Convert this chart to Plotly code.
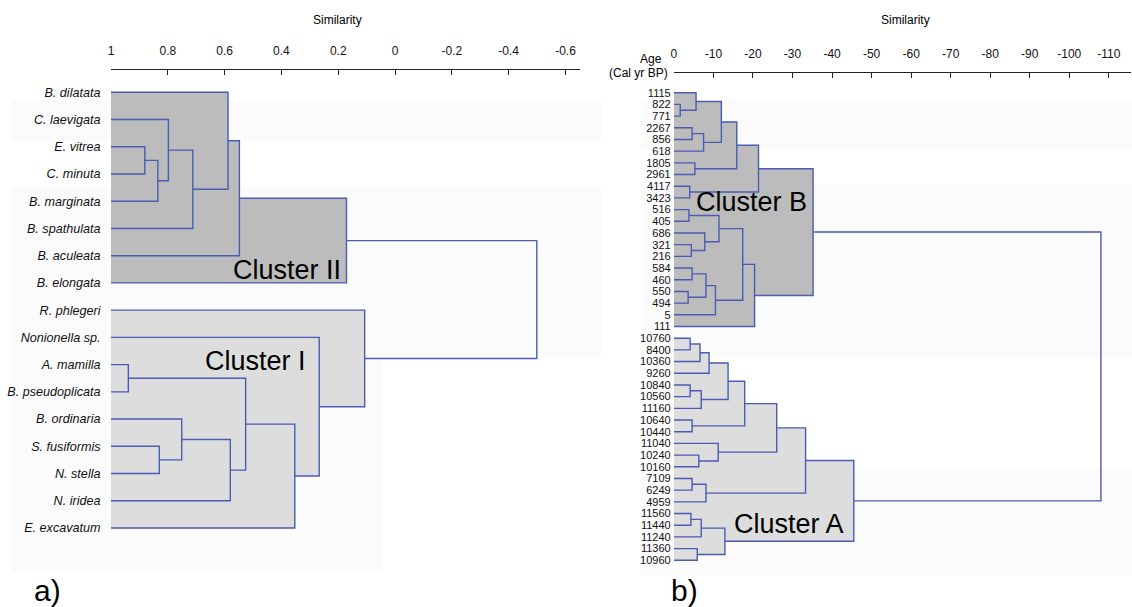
import plotly.graph_objects as go

W, H = 1132, 607

# ---------------- Panel a) : species dendrogram ----------------
species = ["B. dilatata", "C. laevigata", "E. vitrea", "C. minuta", "B. marginata",
           "B. spathulata", "B. aculeata", "B. elongata", "R. phlegeri", "Nonionella sp.",
           "A. mamilla", "B. pseudoplicata", "B. ordinaria", "S. fusiformis", "N. stella",
           "N. iridea", "E. excavatum"]
# merge k -> node "m<k>"
a_left = ["E. vitrea", "m0", "C. laevigata", "m2", "B. dilatata", "m4", "m5",
          "A. mamilla", "S. fusiformis", "B. ordinaria", "m9", "m7", "m11",
          "Nonionella sp.", "R. phlegeri", "m6"]
a_right = ["C. minuta", "B. marginata", "m1", "B. spathulata", "m3", "B. aculeata", "B. elongata",
           "B. pseudoplicata", "N. stella", "m8", "N. iridea", "m10", "E. excavatum",
           "m12", "m13", "m14"]
a_sim = [0.881, 0.835, 0.798, 0.712, 0.588, 0.548, 0.171,
         0.939, 0.830, 0.751, 0.580, 0.526, 0.353,
         0.267, 0.107, -0.499]
a_ticks = [1, 0.8, 0.6, 0.4, 0.2, 0, -0.2, -0.4, -0.6]
a_ticktext = ["1", "0.8", "0.6", "0.4", "0.2", "0", "-0.2", "-0.4", "-0.6"]
a_clusters = ["m6", "m14"]
a_cluster_names = ["Cluster II", "Cluster I"]

# ---------------- Panel b) : samples dendrogram ----------------
ages = ["1115", "822", "771", "2267", "856", "618", "1805", "2961", "4117", "3423",
        "516", "405", "686", "321", "216", "584", "460", "550", "494", "5", "111",
        "10760", "8400", "10360", "9260", "10840", "10560", "11160", "10640", "10440",
        "11040", "10240", "10160", "7109", "6249", "4959", "11560", "11440", "11240",
        "11360", "10960"]
b_left = ["822", "1115", "2267", "m2", "m1", "1805", "m4", "4117", "m6",
          "516", "321", "686", "m9", "584", "550", "m13", "m15", "m12", "m17", "m8",
          "10760", "m20", "m21", "10840", "m23", "m22", "10640", "m25", "10240", "11040",
          "m27", "7109", "m31", "m30", "11560", "m34", "11360", "m35", "m33", "m19"]
b_right = ["771", "m0", "856", "618", "m3", "2961", "m5", "3423", "m7",
           "405", "216", "m10", "m11", "460", "494", "m14", "5", "m16", "111", "m18",
           "8400", "10360", "9260", "10560", "11160", "m24", "10440", "m26", "10160", "m28",
           "m29", "6249", "4959", "m32", "11440", "11240", "10960", "m36", "m37", "m38"]
b_sim = [-1.6, -5.6, -4.6, -7.5, -12.0, -5.3, -15.9, -4.0, -21.4,
         -3.8, -4.4, -7.8, -11.4, -4.6, -3.6, -8.1, -10.5, -17.4, -20.4, -35.2,
         -4.1, -6.6, -8.9, -4.1, -6.9, -13.7, -4.6, -17.9, -6.3, -11.2,
         -26.0, -4.6, -8.1, -33.3, -4.3, -6.9, -5.9, -12.9, -45.5, -108.0]
b_ticks = [0, -10, -20, -30, -40, -50, -60, -70, -80, -90, -100, -110]
b_ticktext = ["0", "-10", "-20", "-30", "-40", "-50", "-60", "-70", "-80", "-90", "-100", "-110"]
b_clusters = ["m19", "m38"]
b_cluster_names = ["Cluster B", "Cluster A"]

LINE = "#4a5cb4"
DARK = "#bcbcbc"
LIGHT = "#dddddd"
FONT = "Liberation Sans, Arial, sans-serif"


def build(leaves, left, right, sims, base):
    pos = {n: i for i, n in enumerate(leaves)}
    hx = {n: base for n in leaves}
    kids = {}
    lx, ly = [], []
    for k, (a, b, h) in enumerate(zip(left, right, sims)):
        key = "m%d" % k
        ya, yb = pos[a], pos[b]
        lx += [hx[a], h, h, hx[b], None]
        ly += [ya, ya, yb, yb, None]
        pos[key] = (ya + yb) / 2.0
        hx[key] = h
        kids[key] = (a, b)
    return pos, hx, kids, lx, ly


def cluster_fill(root, pos, hx, kids, base):
    fx, fy = [], []
    stack = [root]
    while stack:
        n = stack.pop()
        if n not in kids:
            continue
        a, b = kids[n]
        y0, y1 = sorted([pos[a], pos[b]])
        h = hx[n]
        fx += [base, h, h, base, base, None]
        fy += [y0, y0, y1, y1, y0, None]
        stack += [a, b]
    return fx, fy


fig = go.Figure()

# faint background bands (scan texture of the original)
for x0, x1, y0, y1 in [(8, 600, 100, 142), (8, 600, 187, 358), (8, 380, 358, 572),
                       (640, 1132, 100, 150), (640, 1132, 185, 358), (640, 1132, 470, 575)]:
    fig.add_shape(type="rect", xref="paper", yref="paper",
                  x0=x0 / W, x1=x1 / W, y0=1 - y1 / H, y1=1 - y0 / H,
                  fillcolor="#fbfbfb", line_width=0, layer="below")

panels = [
    (species, a_left, a_right, a_sim, 1.0, a_clusters, "x", "y"),
    (ages, b_left, b_right, b_sim, 0.0, b_clusters, "x2", "y2"),
]
trees = []
for leaves, left, right, sims, base, clusters, xa, ya in panels:
    pos, hx, kids, lx, ly = build(leaves, left, right, sims, base)
    trees.append((pos, hx, kids))
    for root, col in zip(clusters, [DARK, LIGHT]):
        fx, fy = cluster_fill(root, pos, hx, kids, base)
        fig.add_trace(go.Scatter(x=fx, y=fy, mode="lines", fill="toself",
                                 fillcolor=col, line=dict(width=0, color=col),
                                 hoverinfo="skip", showlegend=False,
                                 xaxis=xa, yaxis=ya))
    fig.add_trace(go.Scatter(x=lx, y=ly, mode="lines",
                             line=dict(color=LINE, width=1.4),
                             hoverinfo="skip", showlegend=False,
                             xaxis=xa, yaxis=ya))

# pixel geometry of the two panels
ax_l0, ax_l1, px_per_unit_a = 108.3, 578.3, 284.8
ax_r0, ax_r1, px_per_unit_b = 672.7, 1131.0, 3.964
a_y0, a_dy = 92.3, 27.23
b_y0, b_dy = 92.7, 11.69

axis_common = dict(showgrid=False, zeroline=False, showline=True, linecolor="#222",
                   linewidth=1, ticks="inside", ticklen=5, tickcolor="#222",
                   side="top", anchor="free", ticklabelstandoff=9,
                   tickfont=dict(family=FONT, size=12, color="#111"))

fig.update_layout(
    width=W, height=H, margin=dict(l=0, r=0, t=0, b=0),
    paper_bgcolor="white", plot_bgcolor="rgba(0,0,0,0)",
    showlegend=False,
    xaxis=dict(domain=[ax_l0 / W, ax_l1 / W],
               range=[1, 1 - (ax_l1 - ax_l0) / px_per_unit_a],
               position=1 - 69 / H, tickvals=a_ticks, ticktext=a_ticktext,
               **axis_common),
    xaxis2=dict(domain=[ax_r0 / W, ax_r1 / W],
                range=[0, -(ax_r1 - ax_r0) / px_per_unit_b],
                position=1 - 72 / H, tickvals=b_ticks, ticktext=b_ticktext,
                **axis_common),
    yaxis=dict(domain=[0, 1], range=[(H - a_y0) / a_dy, -a_y0 / a_dy],
               anchor="free", position=ax_l0 / W, showgrid=False, zeroline=False,
               showline=False, ticks="outside", ticklen=8, tickcolor="rgba(0,0,0,0)",
               tickvals=list(range(len(species))), ticktext=species,
               tickfont=dict(family=FONT, size=12.6, color="#111", style="italic")),
    yaxis2=dict(domain=[0, 1], range=[(H - b_y0) / b_dy, -b_y0 / b_dy],
                anchor="free", position=ax_r0 / W, showgrid=False, zeroline=False,
                showline=False, ticks="outside", ticklen=1, tickcolor="rgba(0,0,0,0)",
                tickvals=list(range(len(ages))), ticktext=ages,
                tickfont=dict(family=FONT, size=11, color="#111")),
)

# cluster labels
cl_specs = [
    ("x", "y", trees[0], a_clusters[0], a_cluster_names[0], -3, 6.51),
    ("x", "y", trees[0], a_clusters[1], a_cluster_names[1], None, 9.87),
    ("x2", "y2", trees[1], b_clusters[0], b_cluster_names[0], -4, 9.35),
    ("x2", "y2", trees[1], b_clusters[1], b_cluster_names[1], -8, 36.9),
]
for xa, ya, (pos, hx, kids), root, name, xs, yv in cl_specs:
    if xs is None:
        xv = hx["m13"]
        xs = -11
    else:
        xv = hx[root]
    fig.add_annotation(x=xv, y=yv, xref=xa, yref=ya, text=name, showarrow=False,
                       xanchor="right", yanchor="middle", xshift=xs,
                       font=dict(family=FONT, size=27, color="#000"))

# titles and panel letters
texts = [
    ("Similarity", 335, 20, "center", 12),
    ("Similarity", 905, 20, "center", 12),
    ("Age", 663, 59, "right", 12),
    ("(Cal yr BP)", 669, 73, "right", 12),
    ("a)", 45, 590, "center", 30),
    ("b)", 683, 590, "center", 30),
]
for t, x, y, anc, sz in texts:
    fig.add_annotation(x=x / W, y=1 - y / H, xref="paper", yref="paper", text=t,
                       showarrow=False, xanchor=anc, yanchor="middle",
                       font=dict(family=FONT, size=sz, color="#000"))

fig.write_html("out.html")
